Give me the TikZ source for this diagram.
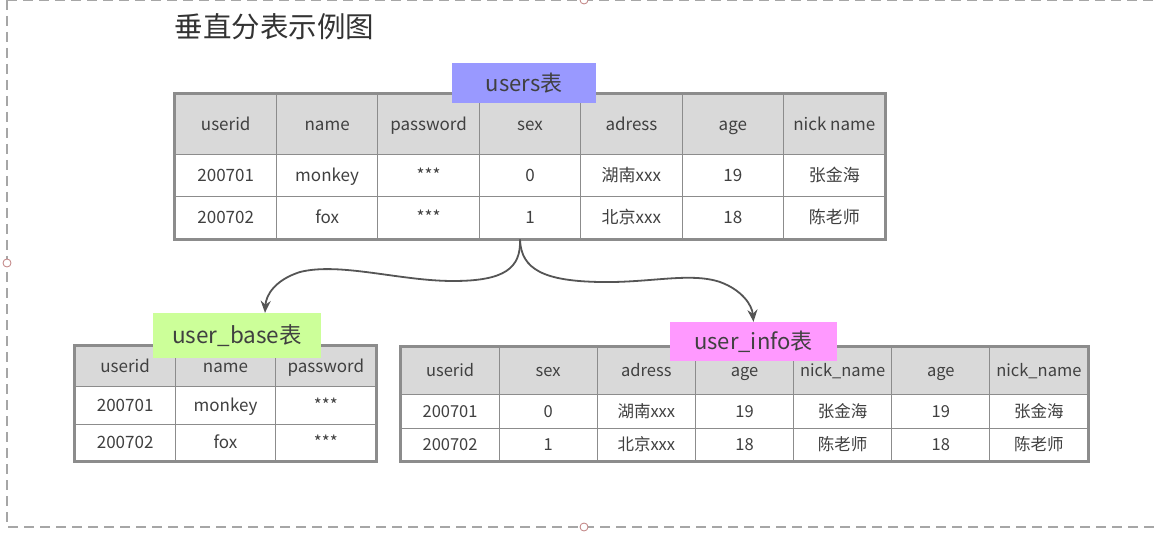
\documentclass[tikz,border=0pt]{standalone}
\usepackage{fontspec}
\setmainfont{Noto Sans CJK SC}
\usetikzlibrary{arrows.meta,calc}
\definecolor{gridc}{HTML}{8C8C8C}
\definecolor{headc}{HTML}{D9D9D9}
\definecolor{txtc}{HTML}{404040}
\definecolor{purp}{HTML}{9999FF}
\definecolor{lgreen}{HTML}{CCFF99}
\definecolor{lpink}{HTML}{FF99FF}
\definecolor{framec}{HTML}{A6A6A6}
\definecolor{handc}{HTML}{C08080}
\definecolor{arrc}{HTML}{555555}
\begin{document}
\begin{tikzpicture}[x=1pt,y=-1pt,
  cellbox/.style={draw=gridc, line width=1pt, inner sep=0pt, text=txtc, anchor=center, text height=14pt, text depth=2pt},
  headbox/.style={cellbox, fill=headc},
  outerbox/.style={draw=gridc, line width=2.5pt},
  tlabel/.style={inner sep=0pt, text=txtc, anchor=center},
  conn/.style={draw=arrc, line width=1.8pt, -{Stealth[length=12pt,width=10pt]}},
  framebox/.style={draw=framec, line width=1.3pt, dash pattern=on 10pt off 6pt},
  handle/.style={draw=handc, fill=white, line width=0.8pt, circle, minimum size=8pt, inner sep=0pt}
]
\useasboundingbox (0,0) rectangle (1156,537);
\fill[white] (0,0) rectangle (1156,537);
\begin{scope}
\clip (0,0) rectangle (1156,537);
\draw[framebox] (7,0) -- (7,527) -- (1170,527);
\draw[framebox] (7,0) -- (1170,0);
\end{scope}
\node[handle] (h1) at (7,263) {};
\node[handle] (h2) at (584,527) {};
\node[handle] (h3) at (584,0) {};

% title
\node[text=txtc!80!black, anchor=west, font=\fontsize{28.5}{32}\selectfont] (title) at (171,27) {垂直分表示例图};

% ===== users table =====
\begin{scope}[font=\fontsize{17}{20}\selectfont]
\foreach \t [count=\i] in {userid,name,password,sex,adress,age,nick name}
  \node[headbox, minimum width=101.43pt, minimum height=61pt] (u-\i-0) at ({175+(\i-0.5)*101.43},124.5) {\t};
\foreach \t [count=\i] in {200701,monkey,***,0,湖南xxx,19,张金海}
  \node[cellbox, minimum width=101.43pt, minimum height=42pt] (u-\i-1) at ({175+(\i-0.5)*101.43},176) {\t};
\foreach \t [count=\i] in {200702,fox,***,1,北京xxx,18,陈老师}
  \node[cellbox, minimum width=101.43pt, minimum height=42pt] (u-\i-2) at ({175+(\i-0.5)*101.43},218) {\t};
\end{scope}
\draw[outerbox] (u-1-0.north west) rectangle (u-7-2.south east);

% ===== user_base table =====
\begin{scope}[font=\fontsize{17}{20}\selectfont]
\foreach \t [count=\i] in {userid,name,password}
  \node[headbox, minimum width=100.33pt, minimum height=40pt] (b-\i-0) at ({75+(\i-0.5)*100.33},366) {\t};
\foreach \t [count=\i] in {200701,monkey,***}
  \node[cellbox, minimum width=100.33pt, minimum height=38pt] (b-\i-1) at ({75+(\i-0.5)*100.33},405) {\t};
\foreach \t [count=\i] in {200702,fox,***}
  \node[cellbox, minimum width=100.33pt, minimum height=37pt] (b-\i-2) at ({75+(\i-0.5)*100.33},442.5) {\t};
\end{scope}
\draw[outerbox] (b-1-0.north west) rectangle (b-3-2.south east);

% ===== user_info table =====
\begin{scope}[font=\fontsize{16.5}{19}\selectfont]
\foreach \t [count=\i] in {userid,sex,adress,age,nick\_name,age,nick\_name}
  \node[headbox, minimum width=98.14pt, minimum height=47pt] (f-\i-0) at ({401+(\i-0.5)*98.14},370.5) {\t};
\foreach \t [count=\i] in {200701,0,湖南xxx,19,张金海,19,张金海}
  \node[cellbox, minimum width=98.14pt, minimum height=34pt] (f-\i-1) at ({401+(\i-0.5)*98.14},411) {\t};
\foreach \t [count=\i] in {200702,1,北京xxx,18,陈老师,18,陈老师}
  \node[cellbox, minimum width=98.14pt, minimum height=33pt] (f-\i-2) at ({401+(\i-0.5)*98.14},444.5) {\t};
\end{scope}
\draw[outerbox] (f-1-0.north west) rectangle (f-7-2.south east);

% ===== labels =====
\node[tlabel, fill=purp, minimum width=144pt, minimum height=40pt, font=\fontsize{22}{24}\selectfont] (lab0) at (524,83) {users表};
\node[tlabel, fill=lgreen, minimum width=168pt, minimum height=45pt, font=\fontsize{22.5}{25}\selectfont] (lab1) at (237,335.5) {user\_base表};
\node[tlabel, fill=lpink, minimum width=167pt, minimum height=39pt, font=\fontsize{22}{24}\selectfont] (lab2) at (753.5,341.5) {user\_info表};

% ===== connectors =====
\coordinate (split) at ($(u-4-2.south)+(-10,0)$);
\coordinate (tipL) at ($(lab1.north)+(28,0)$);
\draw[conn] (split) .. controls (521,268) and (505,281) .. (453,281)
  .. controls (400,281) and (340,262) .. (300,272)
  .. controls (275,280) and (266,295) .. (tipL);
\draw[conn] (split) .. controls (521,270) and (545,281) .. (600,282)
  .. controls (650,283) and (690,272) .. (720,282)
  .. controls (742,290) and (752,305) .. (lab2.north);
\end{tikzpicture}
\end{document}
